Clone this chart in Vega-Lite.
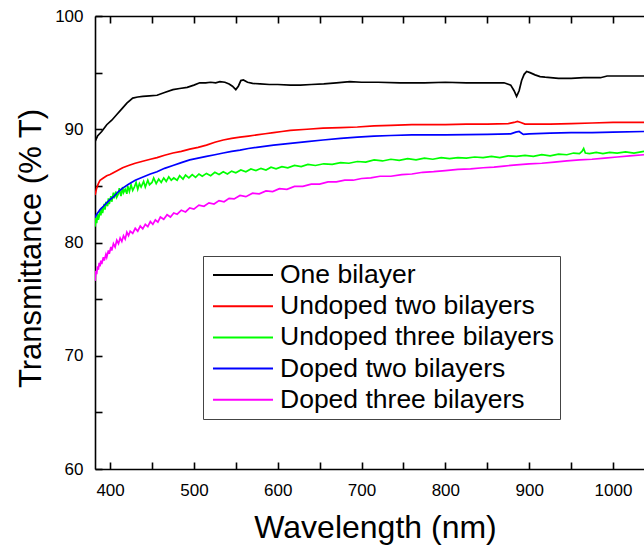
{
  "$schema": "https://vega.github.io/schema/vega-lite/v6.json",
  "width": 549,
  "height": 453,
  "autosize": {"type": "none"},
  "padding": {"left": 95, "top": 16, "right": 0, "bottom": 78},
  "background": "white",
  "config": {"view": {"stroke": null}, "font": "Liberation Sans"},
  "datasets": {
    "spectra": [
      {"s":"One bilayer","w":382,"t":88.9},{"s":"One bilayer","w":385,"t":89.4},{"s":"One bilayer","w":390,"t":89.8},{"s":"One bilayer","w":396,"t":90.4},{"s":"One bilayer","w":402,"t":90.8},{"s":"One bilayer","w":408,"t":91.3},{"s":"One bilayer","w":414,"t":91.8},{"s":"One bilayer","w":420,"t":92.3},{"s":"One bilayer","w":427,"t":92.75},{"s":"One bilayer","w":433,"t":92.85},{"s":"One bilayer","w":439,"t":92.9},{"s":"One bilayer","w":447,"t":92.95},{"s":"One bilayer","w":456,"t":93.0},{"s":"One bilayer","w":465,"t":93.25},{"s":"One bilayer","w":475,"t":93.5},{"s":"One bilayer","w":483,"t":93.6},{"s":"One bilayer","w":492,"t":93.7},{"s":"One bilayer","w":500,"t":93.9},{"s":"One bilayer","w":507,"t":94.1},{"s":"One bilayer","w":514,"t":94.1},{"s":"One bilayer","w":520,"t":94.15},{"s":"One bilayer","w":526,"t":94.1},{"s":"One bilayer","w":531,"t":94.2},{"s":"One bilayer","w":537,"t":94.15},{"s":"One bilayer","w":542,"t":94.0},{"s":"One bilayer","w":546,"t":93.8},{"s":"One bilayer","w":550,"t":93.5},{"s":"One bilayer","w":553,"t":93.8},{"s":"One bilayer","w":556,"t":94.3},{"s":"One bilayer","w":559,"t":94.35},{"s":"One bilayer","w":564,"t":94.15},{"s":"One bilayer","w":570,"t":94.05},{"s":"One bilayer","w":579,"t":94.0},{"s":"One bilayer","w":590,"t":93.95},{"s":"One bilayer","w":600,"t":93.95},{"s":"One bilayer","w":615,"t":93.9},{"s":"One bilayer","w":627,"t":93.9},{"s":"One bilayer","w":640,"t":93.95},{"s":"One bilayer","w":655,"t":94.0},{"s":"One bilayer","w":670,"t":94.1},{"s":"One bilayer","w":686,"t":94.2},{"s":"One bilayer","w":700,"t":94.15},{"s":"One bilayer","w":720,"t":94.15},{"s":"One bilayer","w":746,"t":94.1},{"s":"One bilayer","w":775,"t":94.1},{"s":"One bilayer","w":800,"t":94.15},{"s":"One bilayer","w":825,"t":94.1},{"s":"One bilayer","w":850,"t":94.1},{"s":"One bilayer","w":870,"t":94.1},{"s":"One bilayer","w":878,"t":93.9},{"s":"One bilayer","w":882,"t":93.4},{"s":"One bilayer","w":885,"t":92.9},{"s":"One bilayer","w":888,"t":93.4},{"s":"One bilayer","w":891,"t":94.3},{"s":"One bilayer","w":894,"t":94.85},{"s":"One bilayer","w":897,"t":95.1},{"s":"One bilayer","w":901,"t":95.0},{"s":"One bilayer","w":907,"t":94.8},{"s":"One bilayer","w":913,"t":94.65},{"s":"One bilayer","w":919,"t":94.6},{"s":"One bilayer","w":935,"t":94.5},{"s":"One bilayer","w":950,"t":94.5},{"s":"One bilayer","w":965,"t":94.55},{"s":"One bilayer","w":985,"t":94.55},{"s":"One bilayer","w":993,"t":94.7},{"s":"One bilayer","w":1000,"t":94.7},{"s":"One bilayer","w":1020,"t":94.7},{"s":"One bilayer","w":1037,"t":94.7},

      {"s":"Undoped two bilayers","w":382,"t":84.2},{"s":"Undoped two bilayers","w":384,"t":84.8},{"s":"Undoped two bilayers","w":386,"t":85.2},{"s":"Undoped two bilayers","w":388,"t":85.5},{"s":"Undoped two bilayers","w":392,"t":85.7},{"s":"Undoped two bilayers","w":396,"t":85.9},{"s":"Undoped two bilayers","w":400,"t":86.0},{"s":"Undoped two bilayers","w":405,"t":86.2},{"s":"Undoped two bilayers","w":410,"t":86.4},{"s":"Undoped two bilayers","w":415,"t":86.6},{"s":"Undoped two bilayers","w":422,"t":86.8},{"s":"Undoped two bilayers","w":430,"t":87.0},{"s":"Undoped two bilayers","w":440,"t":87.2},{"s":"Undoped two bilayers","w":448,"t":87.35},{"s":"Undoped two bilayers","w":456,"t":87.5},{"s":"Undoped two bilayers","w":465,"t":87.7},{"s":"Undoped two bilayers","w":475,"t":87.9},{"s":"Undoped two bilayers","w":485,"t":88.05},{"s":"Undoped two bilayers","w":495,"t":88.25},{"s":"Undoped two bilayers","w":505,"t":88.4},{"s":"Undoped two bilayers","w":515,"t":88.6},{"s":"Undoped two bilayers","w":525,"t":88.85},{"s":"Undoped two bilayers","w":535,"t":89.05},{"s":"Undoped two bilayers","w":545,"t":89.2},{"s":"Undoped two bilayers","w":555,"t":89.3},{"s":"Undoped two bilayers","w":565,"t":89.4},{"s":"Undoped two bilayers","w":575,"t":89.5},{"s":"Undoped two bilayers","w":585,"t":89.6},{"s":"Undoped two bilayers","w":595,"t":89.7},{"s":"Undoped two bilayers","w":605,"t":89.8},{"s":"Undoped two bilayers","w":615,"t":89.9},{"s":"Undoped two bilayers","w":635,"t":90.0},{"s":"Undoped two bilayers","w":654,"t":90.1},{"s":"Undoped two bilayers","w":675,"t":90.15},{"s":"Undoped two bilayers","w":695,"t":90.2},{"s":"Undoped two bilayers","w":715,"t":90.3},{"s":"Undoped two bilayers","w":735,"t":90.35},{"s":"Undoped two bilayers","w":760,"t":90.4},{"s":"Undoped two bilayers","w":780,"t":90.4},{"s":"Undoped two bilayers","w":800,"t":90.4},{"s":"Undoped two bilayers","w":825,"t":90.45},{"s":"Undoped two bilayers","w":850,"t":90.45},{"s":"Undoped two bilayers","w":875,"t":90.5},{"s":"Undoped two bilayers","w":882,"t":90.6},{"s":"Undoped two bilayers","w":886,"t":90.7},{"s":"Undoped two bilayers","w":890,"t":90.6},{"s":"Undoped two bilayers","w":895,"t":90.45},{"s":"Undoped two bilayers","w":900,"t":90.45},{"s":"Undoped two bilayers","w":925,"t":90.45},{"s":"Undoped two bilayers","w":950,"t":90.5},{"s":"Undoped two bilayers","w":975,"t":90.55},{"s":"Undoped two bilayers","w":1000,"t":90.6},{"s":"Undoped two bilayers","w":1037,"t":90.6},

      {"s":"Undoped three bilayers","w":382,"t":81.4},{"s":"Undoped three bilayers","w":383,"t":82.2},{"s":"Undoped three bilayers","w":384,"t":81.7},{"s":"Undoped three bilayers","w":385,"t":82.5},{"s":"Undoped three bilayers","w":386,"t":82.0},{"s":"Undoped three bilayers","w":387,"t":82.3},{"s":"Undoped three bilayers","w":388,"t":82.9},{"s":"Undoped three bilayers","w":389,"t":82.4},{"s":"Undoped three bilayers","w":390,"t":83.1},{"s":"Undoped three bilayers","w":391,"t":82.6},{"s":"Undoped three bilayers","w":393,"t":83.4},{"s":"Undoped three bilayers","w":394,"t":82.9},{"s":"Undoped three bilayers","w":395,"t":83.6},{"s":"Undoped three bilayers","w":397,"t":83.2},{"s":"Undoped three bilayers","w":398,"t":83.9},{"s":"Undoped three bilayers","w":399,"t":83.4},{"s":"Undoped three bilayers","w":401,"t":84.1},{"s":"Undoped three bilayers","w":402,"t":83.6},{"s":"Undoped three bilayers","w":404,"t":84.4},{"s":"Undoped three bilayers","w":405,"t":83.9},{"s":"Undoped three bilayers","w":407,"t":84.5},{"s":"Undoped three bilayers","w":408,"t":84.0},{"s":"Undoped three bilayers","w":410,"t":84.3},{"s":"Undoped three bilayers","w":411,"t":84.8},{"s":"Undoped three bilayers","w":413,"t":84.1},{"s":"Undoped three bilayers","w":415,"t":84.9},{"s":"Undoped three bilayers","w":416,"t":84.4},{"s":"Undoped three bilayers","w":418,"t":84.7},{"s":"Undoped three bilayers","w":420,"t":84.3},{"s":"Undoped three bilayers","w":421,"t":85.0},{"s":"Undoped three bilayers","w":423,"t":84.5},{"s":"Undoped three bilayers","w":425,"t":85.1},{"s":"Undoped three bilayers","w":427,"t":84.6},{"s":"Undoped three bilayers","w":429,"t":84.9},{"s":"Undoped three bilayers","w":431,"t":85.3},{"s":"Undoped three bilayers","w":433,"t":84.7},{"s":"Undoped three bilayers","w":435,"t":85.2},{"s":"Undoped three bilayers","w":437,"t":84.9},{"s":"Undoped three bilayers","w":440,"t":85.4},{"s":"Undoped three bilayers","w":442,"t":84.9},{"s":"Undoped three bilayers","w":445,"t":85.5},{"s":"Undoped three bilayers","w":447,"t":85.1},{"s":"Undoped three bilayers","w":450,"t":85.3},{"s":"Undoped three bilayers","w":452,"t":85.7},{"s":"Undoped three bilayers","w":455,"t":85.2},{"s":"Undoped three bilayers","w":458,"t":85.6},{"s":"Undoped three bilayers","w":461,"t":85.3},{"s":"Undoped three bilayers","w":464,"t":85.7},{"s":"Undoped three bilayers","w":467,"t":85.4},{"s":"Undoped three bilayers","w":470,"t":85.8},{"s":"Undoped three bilayers","w":473,"t":85.5},{"s":"Undoped three bilayers","w":476,"t":85.7},{"s":"Undoped three bilayers","w":480,"t":85.5},{"s":"Undoped three bilayers","w":483,"t":85.9},{"s":"Undoped three bilayers","w":487,"t":85.6},{"s":"Undoped three bilayers","w":490,"t":85.95},{"s":"Undoped three bilayers","w":494,"t":85.7},{"s":"Undoped three bilayers","w":498,"t":86.0},{"s":"Undoped three bilayers","w":502,"t":85.75},{"s":"Undoped three bilayers","w":506,"t":86.05},{"s":"Undoped three bilayers","w":510,"t":85.85},{"s":"Undoped three bilayers","w":515,"t":86.1},{"s":"Undoped three bilayers","w":520,"t":85.9},{"s":"Undoped three bilayers","w":525,"t":86.2},{"s":"Undoped three bilayers","w":530,"t":86.0},{"s":"Undoped three bilayers","w":535,"t":86.25},{"s":"Undoped three bilayers","w":540,"t":86.05},{"s":"Undoped three bilayers","w":545,"t":86.3},{"s":"Undoped three bilayers","w":550,"t":86.15},{"s":"Undoped three bilayers","w":556,"t":86.4},{"s":"Undoped three bilayers","w":562,"t":86.25},{"s":"Undoped three bilayers","w":568,"t":86.5},{"s":"Undoped three bilayers","w":574,"t":86.35},{"s":"Undoped three bilayers","w":580,"t":86.55},{"s":"Undoped three bilayers","w":586,"t":86.4},{"s":"Undoped three bilayers","w":592,"t":86.65},{"s":"Undoped three bilayers","w":598,"t":86.5},{"s":"Undoped three bilayers","w":605,"t":86.7},{"s":"Undoped three bilayers","w":612,"t":86.6},{"s":"Undoped three bilayers","w":620,"t":86.8},{"s":"Undoped three bilayers","w":628,"t":86.7},{"s":"Undoped three bilayers","w":636,"t":86.9},{"s":"Undoped three bilayers","w":645,"t":86.8},{"s":"Undoped three bilayers","w":655,"t":86.95},{"s":"Undoped three bilayers","w":665,"t":86.9},{"s":"Undoped three bilayers","w":675,"t":87.05},{"s":"Undoped three bilayers","w":685,"t":87.0},{"s":"Undoped three bilayers","w":695,"t":87.15},{"s":"Undoped three bilayers","w":705,"t":87.1},{"s":"Undoped three bilayers","w":715,"t":87.3},{"s":"Undoped three bilayers","w":725,"t":87.2},{"s":"Undoped three bilayers","w":735,"t":87.35},{"s":"Undoped three bilayers","w":745,"t":87.25},{"s":"Undoped three bilayers","w":755,"t":87.4},{"s":"Undoped three bilayers","w":765,"t":87.3},{"s":"Undoped three bilayers","w":775,"t":87.45},{"s":"Undoped three bilayers","w":785,"t":87.35},{"s":"Undoped three bilayers","w":795,"t":87.5},{"s":"Undoped three bilayers","w":805,"t":87.4},{"s":"Undoped three bilayers","w":815,"t":87.5},{"s":"Undoped three bilayers","w":825,"t":87.45},{"s":"Undoped three bilayers","w":835,"t":87.55},{"s":"Undoped three bilayers","w":845,"t":87.5},{"s":"Undoped three bilayers","w":855,"t":87.6},{"s":"Undoped three bilayers","w":865,"t":87.5},{"s":"Undoped three bilayers","w":875,"t":87.65},{"s":"Undoped three bilayers","w":885,"t":87.6},{"s":"Undoped three bilayers","w":895,"t":87.7},{"s":"Undoped three bilayers","w":905,"t":87.6},{"s":"Undoped three bilayers","w":915,"t":87.75},{"s":"Undoped three bilayers","w":925,"t":87.65},{"s":"Undoped three bilayers","w":935,"t":87.8},{"s":"Undoped three bilayers","w":945,"t":87.75},{"s":"Undoped three bilayers","w":953,"t":87.9},{"s":"Undoped three bilayers","w":960,"t":87.85},{"s":"Undoped three bilayers","w":963,"t":88.05},{"s":"Undoped three bilayers","w":965,"t":88.3},{"s":"Undoped three bilayers","w":967,"t":87.9},{"s":"Undoped three bilayers","w":972,"t":87.85},{"s":"Undoped three bilayers","w":980,"t":87.95},{"s":"Undoped three bilayers","w":988,"t":87.85},{"s":"Undoped three bilayers","w":996,"t":87.95},{"s":"Undoped three bilayers","w":1005,"t":87.9},{"s":"Undoped three bilayers","w":1015,"t":88.0},{"s":"Undoped three bilayers","w":1025,"t":87.9},{"s":"Undoped three bilayers","w":1037,"t":88.05},

      {"s":"Doped two bilayers","w":382,"t":82.2},{"s":"Doped two bilayers","w":384,"t":82.5},{"s":"Doped two bilayers","w":386,"t":82.7},{"s":"Doped two bilayers","w":388,"t":82.9},{"s":"Doped two bilayers","w":392,"t":83.2},{"s":"Doped two bilayers","w":396,"t":83.5},{"s":"Doped two bilayers","w":400,"t":83.8},{"s":"Doped two bilayers","w":405,"t":84.1},{"s":"Doped two bilayers","w":410,"t":84.5},{"s":"Doped two bilayers","w":415,"t":84.8},{"s":"Doped two bilayers","w":422,"t":85.15},{"s":"Doped two bilayers","w":430,"t":85.5},{"s":"Doped two bilayers","w":440,"t":85.8},{"s":"Doped two bilayers","w":448,"t":86.05},{"s":"Doped two bilayers","w":456,"t":86.25},{"s":"Doped two bilayers","w":465,"t":86.55},{"s":"Doped two bilayers","w":475,"t":86.8},{"s":"Doped two bilayers","w":485,"t":87.05},{"s":"Doped two bilayers","w":495,"t":87.3},{"s":"Doped two bilayers","w":505,"t":87.45},{"s":"Doped two bilayers","w":515,"t":87.6},{"s":"Doped two bilayers","w":525,"t":87.75},{"s":"Doped two bilayers","w":535,"t":87.9},{"s":"Doped two bilayers","w":545,"t":88.05},{"s":"Doped two bilayers","w":555,"t":88.15},{"s":"Doped two bilayers","w":565,"t":88.3},{"s":"Doped two bilayers","w":575,"t":88.4},{"s":"Doped two bilayers","w":595,"t":88.6},{"s":"Doped two bilayers","w":615,"t":88.75},{"s":"Doped two bilayers","w":635,"t":88.9},{"s":"Doped two bilayers","w":654,"t":89.05},{"s":"Doped two bilayers","w":675,"t":89.2},{"s":"Doped two bilayers","w":695,"t":89.3},{"s":"Doped two bilayers","w":715,"t":89.4},{"s":"Doped two bilayers","w":735,"t":89.45},{"s":"Doped two bilayers","w":760,"t":89.5},{"s":"Doped two bilayers","w":800,"t":89.5},{"s":"Doped two bilayers","w":850,"t":89.55},{"s":"Doped two bilayers","w":878,"t":89.6},{"s":"Doped two bilayers","w":884,"t":89.75},{"s":"Doped two bilayers","w":888,"t":89.8},{"s":"Doped two bilayers","w":893,"t":89.55},{"s":"Doped two bilayers","w":900,"t":89.6},{"s":"Doped two bilayers","w":925,"t":89.65},{"s":"Doped two bilayers","w":950,"t":89.7},{"s":"Doped two bilayers","w":975,"t":89.7},{"s":"Doped two bilayers","w":1000,"t":89.75},{"s":"Doped two bilayers","w":1037,"t":89.8},

      {"s":"Doped three bilayers","w":382,"t":76.6},{"s":"Doped three bilayers","w":383,"t":77.5},{"s":"Doped three bilayers","w":384,"t":77.2},{"s":"Doped three bilayers","w":385,"t":77.9},{"s":"Doped three bilayers","w":386,"t":77.6},{"s":"Doped three bilayers","w":387,"t":78.2},{"s":"Doped three bilayers","w":388,"t":77.9},{"s":"Doped three bilayers","w":389,"t":78.4},{"s":"Doped three bilayers","w":390,"t":78.1},{"s":"Doped three bilayers","w":392,"t":78.7},{"s":"Doped three bilayers","w":393,"t":78.4},{"s":"Doped three bilayers","w":395,"t":78.95},{"s":"Doped three bilayers","w":396,"t":78.7},{"s":"Doped three bilayers","w":398,"t":79.3},{"s":"Doped three bilayers","w":399,"t":79.0},{"s":"Doped three bilayers","w":401,"t":79.6},{"s":"Doped three bilayers","w":402,"t":79.3},{"s":"Doped three bilayers","w":404,"t":79.9},{"s":"Doped three bilayers","w":406,"t":79.6},{"s":"Doped three bilayers","w":408,"t":80.2},{"s":"Doped three bilayers","w":410,"t":79.9},{"s":"Doped three bilayers","w":412,"t":80.4},{"s":"Doped three bilayers","w":414,"t":80.1},{"s":"Doped three bilayers","w":416,"t":80.6},{"s":"Doped three bilayers","w":418,"t":80.3},{"s":"Doped three bilayers","w":420,"t":80.9},{"s":"Doped three bilayers","w":422,"t":80.6},{"s":"Doped three bilayers","w":424,"t":81.0},{"s":"Doped three bilayers","w":427,"t":80.8},{"s":"Doped three bilayers","w":430,"t":81.25},{"s":"Doped three bilayers","w":433,"t":81.0},{"s":"Doped three bilayers","w":436,"t":81.45},{"s":"Doped three bilayers","w":439,"t":81.2},{"s":"Doped three bilayers","w":442,"t":81.6},{"s":"Doped three bilayers","w":445,"t":81.4},{"s":"Doped three bilayers","w":448,"t":81.85},{"s":"Doped three bilayers","w":451,"t":81.6},{"s":"Doped three bilayers","w":454,"t":82.0},{"s":"Doped three bilayers","w":457,"t":81.8},{"s":"Doped three bilayers","w":460,"t":82.25},{"s":"Doped three bilayers","w":464,"t":82.05},{"s":"Doped three bilayers","w":468,"t":82.45},{"s":"Doped three bilayers","w":472,"t":82.25},{"s":"Doped three bilayers","w":476,"t":82.6},{"s":"Doped three bilayers","w":480,"t":82.5},{"s":"Doped three bilayers","w":485,"t":82.85},{"s":"Doped three bilayers","w":490,"t":82.7},{"s":"Doped three bilayers","w":495,"t":83.05},{"s":"Doped three bilayers","w":500,"t":82.95},{"s":"Doped three bilayers","w":506,"t":83.3},{"s":"Doped three bilayers","w":512,"t":83.2},{"s":"Doped three bilayers","w":518,"t":83.5},{"s":"Doped three bilayers","w":524,"t":83.4},{"s":"Doped three bilayers","w":530,"t":83.7},{"s":"Doped three bilayers","w":536,"t":83.6},{"s":"Doped three bilayers","w":542,"t":83.9},{"s":"Doped three bilayers","w":548,"t":83.85},{"s":"Doped three bilayers","w":555,"t":84.15},{"s":"Doped three bilayers","w":562,"t":84.05},{"s":"Doped three bilayers","w":570,"t":84.35},{"s":"Doped three bilayers","w":578,"t":84.3},{"s":"Doped three bilayers","w":586,"t":84.55},{"s":"Doped three bilayers","w":594,"t":84.5},{"s":"Doped three bilayers","w":602,"t":84.75},{"s":"Doped three bilayers","w":611,"t":84.7},{"s":"Doped three bilayers","w":620,"t":84.95},{"s":"Doped three bilayers","w":630,"t":84.95},{"s":"Doped three bilayers","w":640,"t":85.15},{"s":"Doped three bilayers","w":650,"t":85.15},{"s":"Doped three bilayers","w":660,"t":85.35},{"s":"Doped three bilayers","w":670,"t":85.35},{"s":"Doped three bilayers","w":680,"t":85.5},{"s":"Doped three bilayers","w":690,"t":85.5},{"s":"Doped three bilayers","w":700,"t":85.65},{"s":"Doped three bilayers","w":711,"t":85.7},{"s":"Doped three bilayers","w":722,"t":85.85},{"s":"Doped three bilayers","w":735,"t":85.85},{"s":"Doped three bilayers","w":748,"t":86.0},{"s":"Doped three bilayers","w":760,"t":86.05},{"s":"Doped three bilayers","w":773,"t":86.2},{"s":"Doped three bilayers","w":786,"t":86.25},{"s":"Doped three bilayers","w":800,"t":86.35},{"s":"Doped three bilayers","w":815,"t":86.45},{"s":"Doped three bilayers","w":830,"t":86.5},{"s":"Doped three bilayers","w":845,"t":86.6},{"s":"Doped three bilayers","w":858,"t":86.65},{"s":"Doped three bilayers","w":870,"t":86.75},{"s":"Doped three bilayers","w":885,"t":86.85},{"s":"Doped three bilayers","w":900,"t":86.95},{"s":"Doped three bilayers","w":915,"t":87.0},{"s":"Doped three bilayers","w":930,"t":87.1},{"s":"Doped three bilayers","w":945,"t":87.2},{"s":"Doped three bilayers","w":960,"t":87.3},{"s":"Doped three bilayers","w":975,"t":87.35},{"s":"Doped three bilayers","w":990,"t":87.45},{"s":"Doped three bilayers","w":1005,"t":87.55},{"s":"Doped three bilayers","w":1020,"t":87.65},{"s":"Doped three bilayers","w":1037,"t":87.75}
    ]
  },
  "data": {"name": "spectra"},
  "layer": [
    {
      "mark": {"type": "line", "strokeWidth": 1.7, "clip": true},
      "encoding": {
        "x": {
          "field": "w", "type": "quantitative",
          "scale": {"domain": [382, 1037], "nice": false, "zero": false},
          "axis": {
            "orient": "bottom",
            "title": "Wavelength (nm)",
            "values": [400, 450, 500, 550, 600, 650, 700, 750, 800, 850, 900, 950, 1000],
            "labelExpr": "datum.value % 100 === 0 ? datum.label : ''",
            "format": "d",
            "grid": false,
            "domainColor": "black", "domainWidth": 1.6,
            "tickColor": "black", "tickWidth": 1.6,
            "tickSize": -7,
            "labelFont": "Liberation Sans", "labelFontSize": 17, "labelColor": "black",
            "labelPadding": 20, "labelFlush": false,
            "titleFont": "Liberation Sans", "titleFontSize": 32, "titleFontWeight": "normal", "titleColor": "black",
            "titleX": 280, "titleY": 68, "titleBaseline": "alphabetic", "titleAlign": "center"
          }
        },
        "y": {
          "field": "t", "type": "quantitative",
          "scale": {"domain": [60, 100], "nice": false, "zero": false},
          "axis": {
            "title": "Transmittance (% T)",
            "values": [60, 65, 70, 75, 80, 85, 90, 95, 100],
            "labelExpr": "datum.value % 10 === 0 ? datum.label : ''",
            "grid": false,
            "domainColor": "black", "domainWidth": 1.6,
            "tickColor": "black", "tickWidth": 1.6,
            "tickSize": -7,
            "labelFont": "Liberation Sans", "labelFontSize": 17, "labelColor": "black",
            "labelPadding": 19, "labelFlush": false,
            "titleFont": "Liberation Sans", "titleFontSize": 31, "titleFontWeight": "normal", "titleColor": "black",
            "titleX": -55, "titleY": 232, "titleAngle": -90, "titleBaseline": "alphabetic", "titleAlign": "center"
          }
        },
        "color": {
          "field": "s", "type": "nominal",
          "scale": {
            "domain": ["One bilayer", "Undoped two bilayers", "Undoped three bilayers", "Doped two bilayers", "Doped three bilayers"],
            "range": ["#000000", "#ff0000", "#00ff00", "#0000ff", "#ff00ff"]
          },
          "legend": {
            "orient": "none", "legendX": 108, "legendY": 240,
            "title": null,
            "strokeColor": "#444444", "fillColor": "white",
            "padding": 5.5,
            "symbolType": "M-0.72,0H4.08", "symbolSize": 625, "symbolStrokeWidth": 2,
            "labelFont": "Liberation Sans", "labelFontSize": 26.5, "labelColor": "black", "labelLimit": 500,
            "labelOffset": 44.5, "rowPadding": 4.2
          }
        }
      }
    },
    {
      "mark": {"type": "point", "opacity": 0},
      "encoding": {
        "x": {
          "field": "w", "type": "quantitative",
          "axis": {
            "orient": "top", "title": null, "labels": false, "grid": false,
            "values": [400, 450, 500, 550, 600, 650, 700, 750, 800, 850, 900, 950, 1000],
            "domainColor": "black", "domainWidth": 1.6,
            "tickColor": "black", "tickWidth": 1.6,
            "tickSize": -7
          }
        }
      }
    }
  ],
  "resolve": {"axis": {"x": "independent"}}
}
